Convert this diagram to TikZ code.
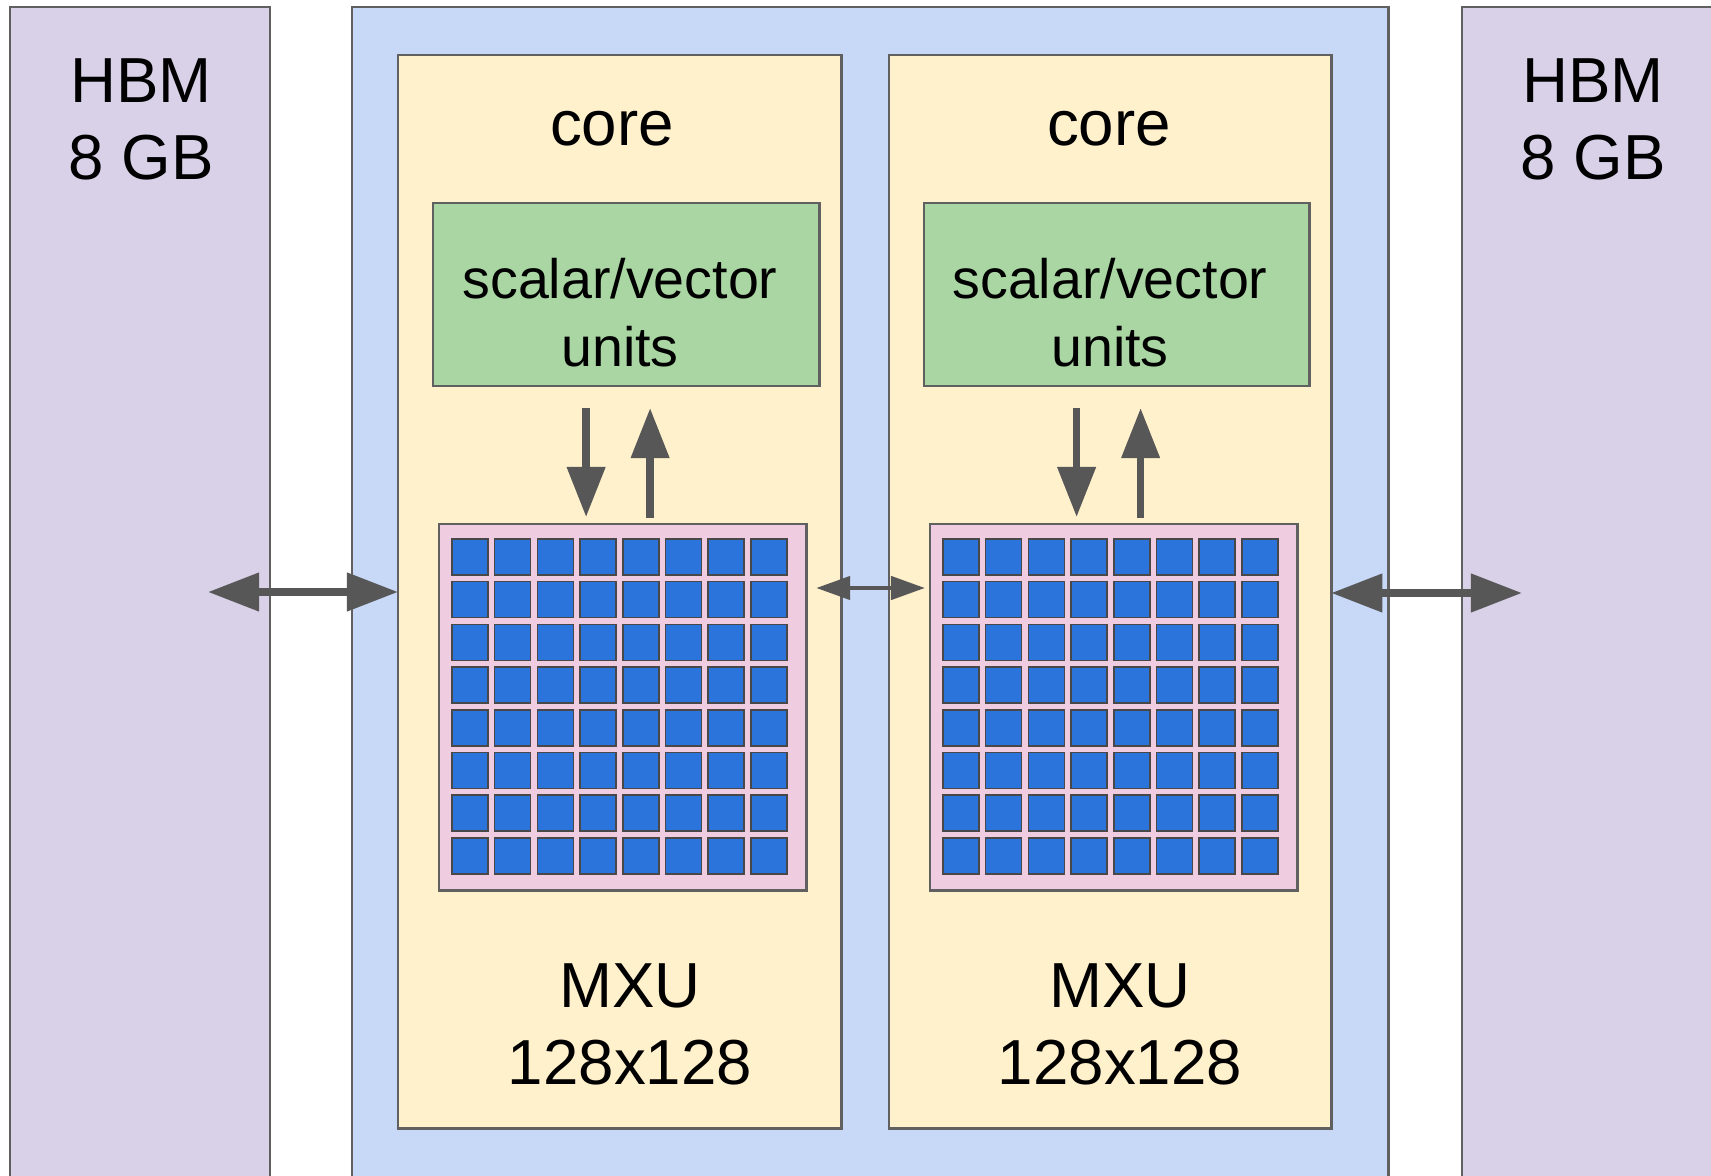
\documentclass[tikz,border=0pt]{standalone}
\usepackage{fontspec}
\setmainfont{Liberation Sans}
\usetikzlibrary{arrows.meta,calc}

\definecolor{hbmfill}{HTML}{D9D1E8}
\definecolor{chipfill}{HTML}{C7D9F7}
\definecolor{corefill}{HTML}{FFF1CC}
\definecolor{vpufill}{HTML}{A9D6A2}
\definecolor{mxufill}{HTML}{F0CCE0}
\definecolor{cellfill}{HTML}{2A74DB}
\definecolor{boxline}{HTML}{606060}
\definecolor{arrowgrey}{HTML}{575757}

\begin{document}
\begin{tikzpicture}[x=0.01cm, y=-0.01cm,
    box/.style={draw=boxline, line width=0.75pt, inner sep=0, outer sep=0, anchor=north west},
    bigtext/.style={font=\fontsize{18.1}{22}\selectfont, align=center, inner sep=0},
    smalltext/.style={font=\fontsize{15.8}{19.3}\selectfont, align=center, inner sep=0},
    cell/.style={fill=cellfill, draw=boxline!75!black, line width=0.45pt},
    bus/.style={draw=arrowgrey, line width=2.1pt, <->, >={Triangle[length=0.51cm, width=0.37cm]}},
    link/.style={draw=arrowgrey, line width=1.3pt, <->, >={Triangle[length=0.34cm, width=0.23cm]}},
    flow/.style={draw=arrowgrey, line width=2.1pt, -{Triangle[length=0.5cm, width=0.37cm]}}]
    \useasboundingbox (0,0) rectangle (1711,1176);
    \clip (0,0) rectangle (1711,1176);
    \fill[white] (0,0) rectangle (1711,1176);

    \node[box, fill=hbmfill, minimum width=2.6cm, minimum height=12.2cm] (hbmL) at (10,7) {};
    \node[box, fill=hbmfill, minimum width=2.6cm, minimum height=12.2cm] (hbmR) at (1462,7) {};
    \node[box, fill=chipfill, minimum width=10.36cm, minimum height=12.2cm] (chip) at (352,7) {};

    \node[box, fill=corefill, minimum width=4.43cm, minimum height=10.73cm] (coreL) at (398,55) {};
    \node[box, fill=corefill, minimum width=4.42cm, minimum height=10.73cm] (coreR) at (889,55) {};
    \node[box, fill=vpufill, minimum width=3.86cm, minimum height=1.83cm] (vpuL) at (433,203) {};
    \node[box, fill=vpufill, minimum width=3.85cm, minimum height=1.83cm] (vpuR) at (924,203) {};
    \node[box, fill=mxufill, minimum width=3.67cm, minimum height=3.66cm] (mxuL) at (439,524) {};
    \node[box, fill=mxufill, minimum width=3.67cm, minimum height=3.66cm] (mxuR) at (930,524) {};

    \foreach \cx in {452,943}
        \foreach \i in {0,...,7}
            \foreach \j in {0,...,7}
                \draw[cell] (\cx+\i*42.7, 539+\j*42.7) rectangle ++(36,36);

    \node[bigtext, anchor=north] (hbmLlabel) at (141,58) {HBM\\8 GB};
    \node[bigtext, anchor=north] (hbmRlabel) at (1593,58) {HBM\\8 GB};
    \node[bigtext, anchor=base] (coreLlabel) at (612,146) {core};
    \node[bigtext, anchor=base] (coreRlabel) at (1109,146) {core};
    \node[smalltext, anchor=north] (vpuLlabel) at (620,258) {scalar/vector\\units};
    \node[smalltext, anchor=north] (vpuRlabel) at (1110,258) {scalar/vector\\units};
    \node[bigtext, anchor=north] (mxuLlabel) at (630,963) {MXU\\128x128};
    \node[bigtext, anchor=north] (mxuRlabel) at (1120,963) {MXU\\128x128};

    \coordinate (busL) at (208,592);
    \coordinate (busR) at (1522,593);
    \coordinate (linkY) at (0,588);
    \draw[bus] (busL) to (coreL.west |- busL);
    \draw[bus] (coreR.east |- busR) to (busR);
    \draw[link] ($(mxuL.east |- linkY)+(10,0)$) to ($(mxuR.west |- linkY)+(-5,0)$);

    \foreach \c in {L,R} {
        \coordinate (dn\c) at ($(vpu\c.south)+(-40,22)$);
        \coordinate (up\c) at ($(vpu\c.south)+(24,22)$);
        \draw[flow, shorten >=0.07cm] (dn\c) to (dn\c |- mxu\c.north);
        \draw[flow, shorten <=0.06cm] (up\c |- mxu\c.north) to (up\c);
    }
\end{tikzpicture}
\end{document}
